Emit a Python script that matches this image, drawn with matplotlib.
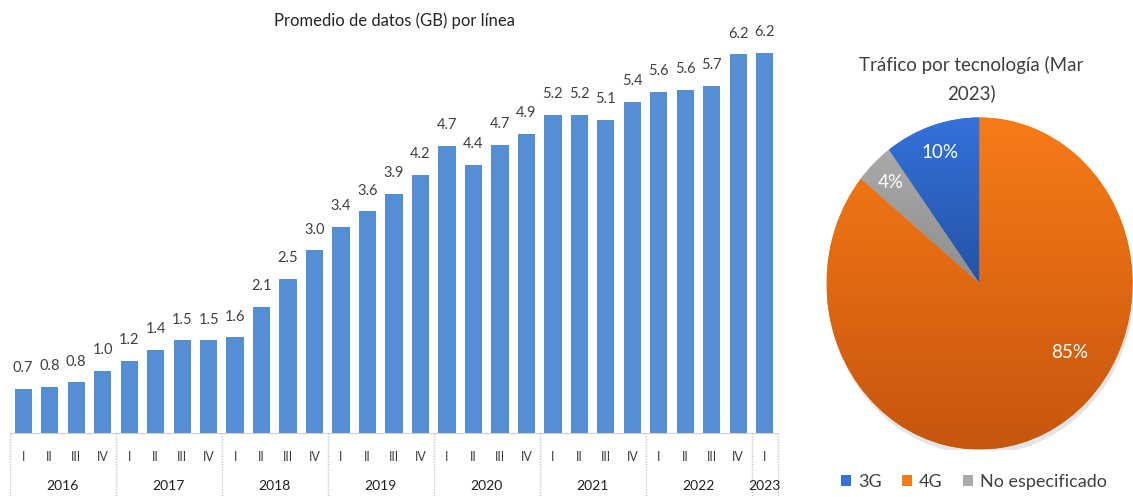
import numpy as np
import matplotlib
matplotlib.use("Agg")
import matplotlib.pyplot as plt
from matplotlib.patches import Ellipse, Patch
import matplotlib.transforms as mtransforms
from matplotlib.colors import LinearSegmentedColormap

# ---------------- data ----------------
years = ["2016", "2017", "2018", "2019", "2020", "2021", "2022", "2023"]
quarters_per_year = [4, 4, 4, 4, 4, 4, 4, 1]
quarter_names = ["I", "II", "III", "IV"]
gb_values = [0.72, 0.76, 0.83, 1.02, 1.18, 1.36, 1.52, 1.52, 1.57, 2.07,
             2.53, 3.0, 3.38, 3.64, 3.93, 4.24, 4.72, 4.41, 4.74, 4.92,
             5.22, 5.23, 5.14, 5.44, 5.6, 5.63, 5.7, 6.22, 6.24]
gb_labels = ["0.7", "0.8", "0.8", "1.0", "1.2", "1.4", "1.5", "1.5", "1.6", "2.1",
             "2.5", "3.0", "3.4", "3.6", "3.9", "4.2", "4.7", "4.4", "4.7", "4.9",
             "5.2", "5.2", "5.1", "5.4", "5.6", "5.6", "5.7", "6.2", "6.2"]

tech_names = ["3G", "4G", "No especificado"]
tech_share = [10, 85, 4]
tech_colors = {"3G": ("#3372DA", "#2552A6"),
               "4G": ("#F87B17", "#C6560E"),
               "No especificado": ("#AAAAAA", "#8E8E8E")}

W, H = 1133, 497
fig = plt.figure(figsize=(W / 100, H / 100), dpi=100)

narrow = ["Lato", "DejaVu Sans"]
pie_font = ["Lato", "DejaVu Sans"]
txt_col = "#404040"

# ---------------- bar chart ----------------
def px_axes(left, top, right, bottom):
    return fig.add_axes([left / W, 1 - bottom / H, (right - left) / W, (bottom - top) / H])

ax = px_axes(10, 10, 778, 433)
x = np.arange(len(gb_values))
ax.bar(x, gb_values, width=0.65, color="#558ED5", zorder=2)
ax.set_xlim(-0.5, len(gb_values) - 0.5)
ax.set_ylim(0, 6.95)
for xi, v, lab in zip(x, gb_values, gb_labels):
    ax.annotate(lab, (xi, v), xytext=(0, 10), textcoords="offset points",
                ha="center", va="bottom", fontsize=10.5, family=narrow, color=txt_col)
for s in ["top", "right", "left"]:
    ax.spines[s].set_visible(False)
ax.spines["bottom"].set_color("#D0D0D0")
ax.set_yticks([])
ax.set_xticks([])

trans = mtransforms.blended_transform_factory(ax.transData, ax.transAxes)
y_q = -(457 - 433) / 423
y_y = -(486 - 433) / 423
y_bot = -(497 - 433) / 423
idx = 0
bounds = [-0.5]
for yr, nq in zip(years, quarters_per_year):
    for q in range(nq):
        ax.text(idx + q, y_q, quarter_names[q], transform=trans, ha="center", va="center",
                fontsize=9, family=narrow, color=txt_col)
    ax.text(idx + (nq - 1) / 2, y_y, yr, transform=trans, ha="center", va="center",
            fontsize=10, family=narrow, color="#202020")
    idx += nq
    bounds.append(idx - 0.5)
for b in bounds:
    ax.plot([b, b], [0, y_bot], transform=trans, color="#C8C8C8", lw=1,
            ls=(0, (1, 1)), clip_on=False)

fig.text(394 / W, 1 - 21 / H, "Promedio de datos (GB) por línea", ha="center", va="center",
         fontsize=12, family=narrow, color="#262626")

# ---------------- pie chart ----------------
cx, cy, rx, ry = 979.5, 283.5, 153, 166
pax = px_axes(cx - rx, cy - ry, cx + rx, cy + ry)
order = ["3G", "No especificado", "4G"]
vals = [tech_share[tech_names.index(n)] for n in order]
wedges, _ = pax.pie(vals, startangle=90, counterclock=True, radius=1,
                    colors=[tech_colors[n][0] for n in order],
                    wedgeprops=dict(linewidth=0))
pax.set_aspect("auto")
pax.axis("off")

# shadow
sh = Ellipse((0.01, -0.03), 2.0, 2.0, color="#000000", alpha=0.10, zorder=0, lw=0)
pax.add_patch(sh)

grad = np.linspace(0, 1, 256).reshape(-1, 1)
for w, n in zip(wedges, order):
    top, bot = tech_colors[n]
    cmap = LinearSegmentedColormap.from_list(n, [top, bot])
    bb = w.get_path().get_extents(w.get_patch_transform())
    im = pax.imshow(grad, cmap=cmap, aspect="auto",
                    extent=[bb.x0, bb.x1, bb.y0, bb.y1],
                    origin="upper", zorder=w.get_zorder() + 0.1, interpolation="bilinear")
    im.set_clip_path(w)
pax.set_xlim(-1, 1)
pax.set_ylim(-1, 1)

# value labels
label_px = {"3G": (940, 152.7), "No especificado": (891, 182.5), "4G": (1070, 353)}
for n in order:
    lx, ly = label_px[n]
    fig.text(lx / W, 1 - ly / H, f"{tech_share[tech_names.index(n)]}%", ha="center",
             va="center", fontsize=13.5, family=pie_font, color="white")

fig.text(971 / W, 1 - 65 / H, "Tráfico por tecnología (Mar", ha="center", va="center",
         fontsize=13.5, family=pie_font, color=txt_col)
fig.text(971 / W, 1 - 93 / H, "2023)", ha="center", va="center",
         fontsize=13.5, family=pie_font, color=txt_col)

# legend
handles = [Patch(facecolor=tech_colors[n][0], edgecolor="none") for n in tech_names]
fig.legend(handles, tech_names, loc="center", bbox_to_anchor=(974 / W, 1 - 482 / H),
           ncol=3, frameon=False, prop={"family": pie_font, "size": 13},
           handlelength=0.55, handleheight=0.55, handletextpad=0.4, columnspacing=1.1,
           labelcolor=txt_col)

fig.savefig("out.png", dpi=100)
